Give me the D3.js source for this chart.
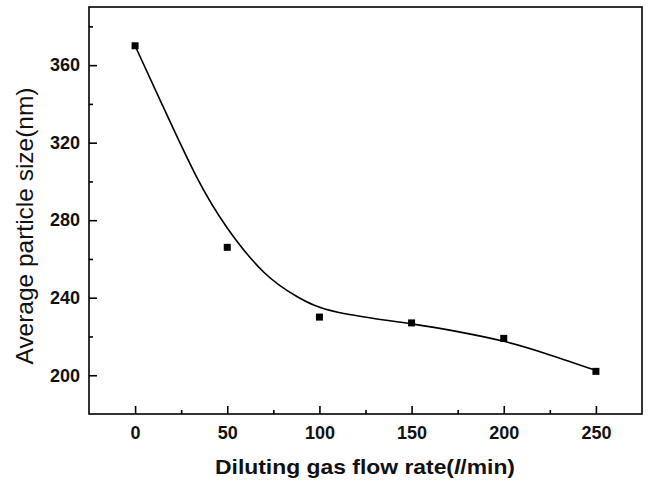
<!DOCTYPE html>
<html>
<head>
<meta charset="utf-8">
<script src="https://cdn.jsdelivr.net/npm/d3@7"></script>
<style>
  html, body { margin: 0; padding: 0; background: #fff; }
  svg { display: block; }
</style>
</head>
<body>
<svg id="chart" width="650" height="481"></svg>
<script>
// Measured particle size at each diluting gas flow rate
const flowRates = [0, 50, 100, 150, 200, 250];
const particleSizes = [370, 266, 230, 227, 219, 202];

// Smooth fitted trend through the measurements
const fitFlow = [0, 15, 33, 50, 70, 88, 110, 150, 175, 200, 225, 250];
const fitSize = [370, 339, 303, 276, 253, 240.5, 232.5, 226.5, 222.5, 217.5, 210.5, 202.5];

// Axis ticks
const xMajorTicks = [0, 50, 100, 150, 200, 250];
const xMinorTicks = [25, 75, 125, 175, 225];
const yMajorTicks = [200, 240, 280, 320, 360];
const yMinorTicks = [220, 260, 300, 340, 380];

const svg = d3.select("#chart");
const plotLeft = 89, plotRight = 642, plotTop = 7, plotBottom = 414;

const x = d3.scaleLinear().domain([-25, 275]).range([plotLeft, plotRight]);
const y = d3.scaleLinear().domain([180, 390]).range([plotBottom, plotTop]);

const font = "'Liberation Sans', Arial, sans-serif";

// Frame
svg.append("rect")
  .attr("x", plotLeft).attr("y", plotTop)
  .attr("width", plotRight - plotLeft).attr("height", plotBottom - plotTop)
  .attr("fill", "none").attr("stroke", "#000").attr("stroke-width", 1.6);

// Bottom axis: inward ticks
const xAxis = d3.axisBottom(x).tickValues(xMajorTicks).tickSize(-8).tickPadding(12);
const gx = svg.append("g").attr("transform", `translate(0,${plotBottom})`).call(xAxis);
gx.select(".domain").remove();
gx.selectAll(".tick line").attr("stroke-width", 1.6);
gx.selectAll(".tick text")
  .attr("font-family", font).attr("font-size", 18).attr("font-weight", "bold").attr("fill", "#111");
const gxm = svg.append("g").attr("transform", `translate(0,${plotBottom})`)
  .call(d3.axisBottom(x).tickValues(xMinorTicks).tickSize(-4).tickFormat(""));
gxm.select(".domain").remove();
gxm.selectAll(".tick line").attr("stroke-width", 1.6);

// Left axis: inward ticks
const yAxis = d3.axisLeft(y).tickValues(yMajorTicks).tickSize(-8).tickPadding(9);
const gy = svg.append("g").attr("transform", `translate(${plotLeft},0)`).call(yAxis);
gy.select(".domain").remove();
gy.selectAll(".tick line").attr("stroke-width", 1.6);
gy.selectAll(".tick text")
  .attr("font-family", font).attr("font-size", 18).attr("font-weight", "bold").attr("fill", "#111");
const gym = svg.append("g").attr("transform", `translate(${plotLeft},0)`)
  .call(d3.axisLeft(y).tickValues(yMinorTicks).tickSize(-4).tickFormat(""));
gym.select(".domain").remove();
gym.selectAll(".tick line").attr("stroke-width", 1.6);

// Fitted curve
const fitData = fitFlow.map((f, i) => [f, fitSize[i]]);
svg.append("path")
  .datum(fitData)
  .attr("fill", "none").attr("stroke", "#000").attr("stroke-width", 1.6)
  .attr("d", d3.line().x(d => x(d[0])).y(d => y(d[1])).curve(d3.curveNatural));

// Measured points as filled squares
const s = 7;
svg.append("g").selectAll("rect")
  .data(flowRates.map((f, i) => [f, particleSizes[i]]))
  .join("rect")
  .attr("x", d => x(d[0]) - s / 2).attr("y", d => y(d[1]) - s / 2)
  .attr("width", s).attr("height", s).attr("fill", "#000");

// Axis titles
const xt = svg.append("text")
  .attr("x", 365).attr("y", 474)
  .attr("text-anchor", "middle")
  .attr("textLength", 300).attr("lengthAdjust", "spacingAndGlyphs")
  .attr("font-family", font).attr("font-size", 21).attr("font-weight", "bold").attr("fill", "#111");
xt.append("tspan").text("Diluting gas flow rate(");
xt.append("tspan").attr("font-style", "italic").text("l");
xt.append("tspan").text("/min)");

svg.append("text")
  .attr("transform", `translate(33,226) rotate(-90)`)
  .attr("text-anchor", "middle")
  .attr("textLength", 277).attr("lengthAdjust", "spacingAndGlyphs")
  .attr("font-family", font).attr("font-size", 24).attr("fill", "#111")
  .text("Average particle size(nm)");
</script>
</body>
</html>
